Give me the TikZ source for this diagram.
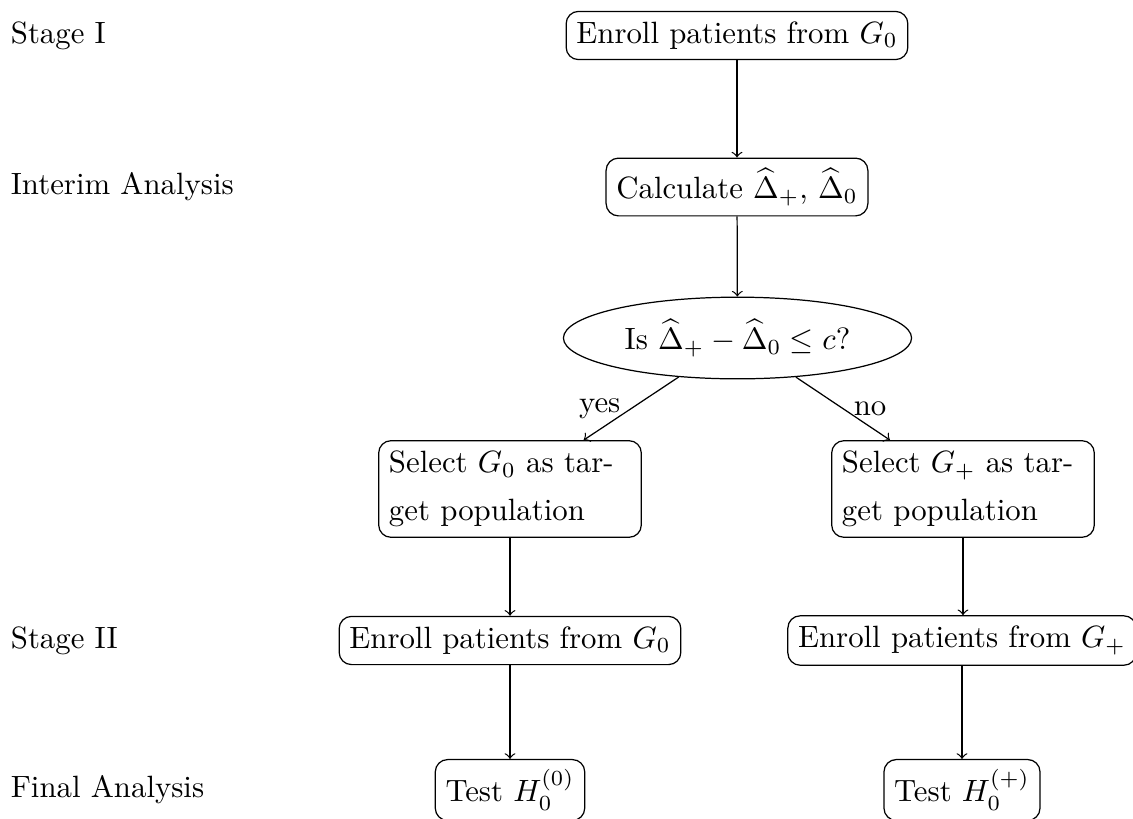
\documentclass[tikz,border=0pt]{standalone}
\usetikzlibrary{shapes.geometric}
\begin{document}
\begin{tikzpicture}[x=0.3247pt,y=-0.3247pt,
  box/.style={draw,rounded corners},
  selbox/.style={draw,rounded corners,text width=78.6pt,align=left,font={\fontsize{10}{15.6}\selectfont}},
  decis/.style={draw,ellipse},
  stagelbl/.style={anchor=west},
  arr/.style={->}]
\useasboundingbox (0,0) rectangle (1133,818);
\node[stagelbl] (l1) at (0,35.5) {Stage I};
\node[stagelbl] (l2) at (0,187) {Interim Analysis};
\node[stagelbl] (l3) at (0,640.5) {Stage II};
\node[stagelbl] (l4) at (0,790) {Final Analysis};

\node[box] (top) at (737,35.5) {Enroll patients from $G_0$};
\node[box] (calc) at (737,187) {Calculate $\widehat{\Delta}_+$, $\widehat{\Delta}_0$};
\node[decis] (dec) at (737.5,338) {Is $\widehat{\Delta}_+-\widehat{\Delta}_0\le c$?};
\node[selbox] (selL) at (510,489) {Select $G_0$ as target population};
\node[selbox] (selR) at (963,489) {Select $G_+$ as target population};
\node[box] (enrL) at (510,640.5) {Enroll patients from $G_0$};
\node[box] (enrR) at (962,640.5) {Enroll patients from $G_+$};
\node[box] (testL) at (510,790) {Test $H_0^{(0)}$};
\node[box] (testR) at (962,790) {Test $H_0^{(+)}$};

\draw[arr] (top) -- (calc);
\draw[arr] (calc) -- (dec);
\draw[arr] (dec) -- node[midway,left] {yes} (selL);
\draw[arr] (dec) -- node[midway,right] {no} (selR);
\draw[arr] (selL) -- (enrL);
\draw[arr] (selR.south) -- (enrR.north -| selR.south);
\draw[arr] (enrL) -- (testL);
\draw[arr] (enrR) -- (testR);
\end{tikzpicture}
\end{document}
